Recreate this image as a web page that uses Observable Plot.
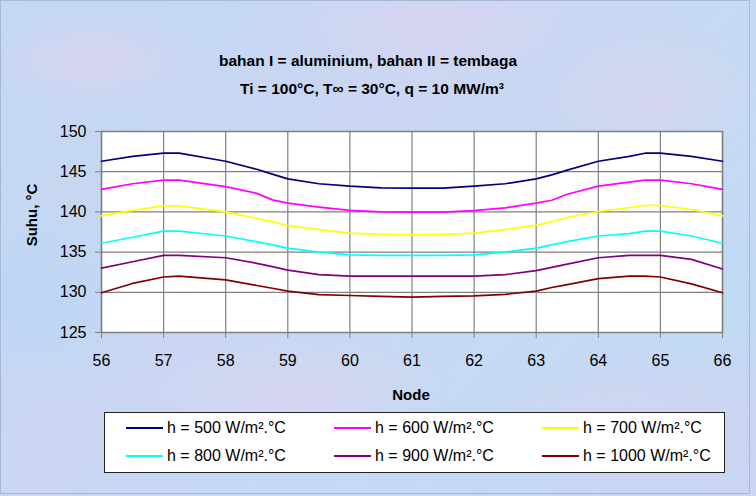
<!DOCTYPE html>
<html>
<head>
<meta charset="utf-8">
<script src="https://cdn.jsdelivr.net/npm/d3@7"></script>
<script src="https://cdn.jsdelivr.net/npm/@observablehq/plot@0.6"></script>
<style>
  html, body { margin: 0; padding: 0; }
  body { width: 756px; height: 496px; overflow: hidden; }
  #chart {
    position: relative; width: 756px; height: 496px; overflow: hidden;
    font-family: "Liberation Sans", Arial, sans-serif;
    background:
      radial-gradient(ellipse 110px 50px at 90px 60px, rgba(232,208,238,0.55), transparent),
      radial-gradient(ellipse 150px 60px at 430px 25px, rgba(228,212,240,0.5), transparent),
      radial-gradient(ellipse 120px 80px at 650px 100px, rgba(230,208,238,0.45), transparent),
      radial-gradient(ellipse 120px 100px at 40px 300px, rgba(180,215,245,0.6), transparent),
      radial-gradient(ellipse 160px 60px at 300px 395px, rgba(230,210,240,0.5), transparent),
      radial-gradient(ellipse 150px 70px at 620px 425px, rgba(222,208,240,0.45), transparent),
      radial-gradient(ellipse 110px 90px at 725px 300px, rgba(185,220,245,0.6), transparent),
      linear-gradient(135deg, #c2d8f3 0%, #cbd6f2 40%, #c4daf3 70%, #cbd5f1 100%);
  }
  #frameBox { position: absolute; left: 0; top: 0; width: 748px; height: 492px; border: 1px solid #a8b8d8; pointer-events: none; }
  .t { position: absolute; font-weight: bold; color: #000; white-space: nowrap; transform: translate(-50%, -50%); }
  #plotHolder { position: absolute; left: 0; top: 0; }
  #legend {
    position: absolute; left: 104px; top: 412px; width: 619px; height: 59px;
    background: #fff; border: 1px solid #222;
  }
  .li { position: absolute; display: flex; align-items: center; font-size: 16px; color: #000; white-space: nowrap; }
  .sw { display: inline-block; width: 37px; height: 0; border-top: 2.5px solid; margin-right: 4px; }
</style>
</head>
<body>
<div id="chart">
  <div id="plotHolder"></div>
  <div id="frameBox"></div>
</div>
<script>
// ---- data ----
const nodes = [56, 56.5, 57, 57.25, 58, 58.5, 58.75, 59, 59.5, 60, 60.5, 61, 61.5, 62, 62.5, 63, 63.25, 63.5, 64, 64.5, 64.75, 65, 65.5, 66];

const h500  = [146.3, 146.9, 147.3, 147.3, 146.3, 145.3, 144.7, 144.1, 143.5, 143.2, 143.0, 142.95, 142.95, 143.2, 143.5, 144.1, 144.6, 145.2, 146.3, 146.9, 147.3, 147.3, 146.9, 146.3];
const h600  = [142.8, 143.5, 143.95, 143.95, 143.15, 142.3, 141.5, 141.1, 140.6, 140.2, 140.0, 139.97, 139.97, 140.15, 140.5, 141.1, 141.45, 142.2, 143.2, 143.7, 143.95, 143.95, 143.5, 142.8];
const h700  = [139.5, 140.2, 140.75, 140.75, 140.0, 139.2, 138.75, 138.3, 137.8, 137.35, 137.2, 137.15, 137.2, 137.35, 137.8, 138.35, 138.8, 139.3, 140.05, 140.55, 140.8, 140.8, 140.3, 139.5];
const h800  = [136.1, 136.85, 137.6, 137.6, 137.0, 136.3, 135.9, 135.5, 135.0, 134.65, 134.6, 134.6, 134.6, 134.65, 135.0, 135.5, 135.9, 136.3, 137.0, 137.3, 137.6, 137.6, 137.0, 136.1];
const h900  = [133.0, 133.8, 134.6, 134.6, 134.3, 133.6, 133.2, 132.75, 132.2, 132.0, 132.0, 132.0, 132.0, 132.0, 132.2, 132.7, 133.1, 133.5, 134.3, 134.6, 134.6, 134.6, 134.1, 132.9];
const h1000 = [129.95, 131.1, 131.9, 132.0, 131.55, 130.85, 130.5, 130.15, 129.7, 129.6, 129.5, 129.4, 129.5, 129.55, 129.75, 130.15, 130.6, 130.95, 131.7, 132.0, 132.0, 131.9, 131.05, 129.95];

const seriesNames = ["h = 500 W/m².°C", "h = 600 W/m².°C", "h = 700 W/m².°C", "h = 800 W/m².°C", "h = 900 W/m².°C", "h = 1000 W/m².°C"];
const seriesValues = [h500, h600, h700, h800, h900, h1000];
const seriesColors = ["#000080", "#ff00ff", "#ffff00", "#00ffff", "#800080", "#800000"];

const xTicks = [56, 57, 58, 59, 60, 61, 62, 63, 64, 65, 66];
const yTicks = [125, 130, 135, 140, 145, 150];

const titleLine1 = "bahan I = aluminium, bahan II = tembaga";
const titleLine2 = "Ti = 100°C, T∞ = 30°C, q = 10 MW/m³";
const xLabel = "Node";
const yLabel = "Suhu, °C";

// ---- table ----
const table = seriesNames.flatMap((name, i) =>
  nodes.map((n, j) => ({series: name, node: n, temp: seriesValues[i][j]}))
);

const chart = Plot.plot({
  width: 756,
  height: 400,
  marginLeft: 101,
  marginRight: 34,
  marginTop: 131,
  marginBottom: 68,
  style: {background: "transparent", fontFamily: "'Liberation Sans', Arial, sans-serif", fontSize: "16px", color: "#000", overflow: "visible"},
  x: {domain: [56, 66], ticks: xTicks, tickFormat: d => String(d), label: null},
  y: {domain: [125, 150], ticks: yTicks, tickFormat: d => String(d), label: null},
  color: {domain: seriesNames, range: seriesColors},
  marks: [
    Plot.frame({fill: "#ffffff", stroke: null}),
    Plot.ruleX(xTicks, {stroke: "#808080", strokeWidth: 1.2}),
    Plot.ruleY(yTicks, {stroke: "#808080", strokeWidth: 1.2}),
    Plot.frame({stroke: "#808080", strokeWidth: 1.5}),
    Plot.axisX({ticks: xTicks, tickSize: 6, tickPadding: 16, stroke: "#808080", fontSize: 16, tickFormat: d => String(d), label: null}),
    Plot.axisY({ticks: yTicks, tickSize: 6, tickPadding: 9, stroke: "#808080", fontSize: 16, tickFormat: d => String(d), label: null}),
    Plot.line(table, {x: "node", y: "temp", z: "series", stroke: "series", strokeWidth: 1.7, curve: "linear"})
  ]
});
document.getElementById("plotHolder").appendChild(chart);

const root = document.getElementById("chart");
function addText(txt, x, y, size, rotate) {
  const d = document.createElement("div");
  d.className = "t";
  d.textContent = txt;
  d.style.left = x + "px";
  d.style.top = y + "px";
  d.style.fontSize = size + "px";
  if (rotate) d.style.transform = "translate(-50%, -50%) rotate(-90deg)";
  root.appendChild(d);
}
addText(titleLine1, 368, 61, 15.5);
addText(titleLine2, 372, 89, 15.5);
addText(xLabel, 411, 394, 15);
addText(yLabel, 31, 215, 15, true);

// ---- legend ----
const legend = document.createElement("div");
legend.id = "legend";
const colX = [21, 229, 437];
const rowY = [15, 43];
seriesNames.forEach((name, i) => {
  const item = document.createElement("div");
  item.className = "li";
  item.style.left = colX[i % 3] + "px";
  item.style.top = (rowY[Math.floor(i / 3)] - 9) + "px";
  item.style.height = "18px";
  const sw = document.createElement("span");
  sw.className = "sw";
  sw.style.borderTopColor = seriesColors[i];
  item.appendChild(sw);
  const tx = document.createElement("span");
  tx.textContent = name;
  item.appendChild(tx);
  legend.appendChild(item);
});
root.appendChild(legend);
</script>
</body>
</html>
